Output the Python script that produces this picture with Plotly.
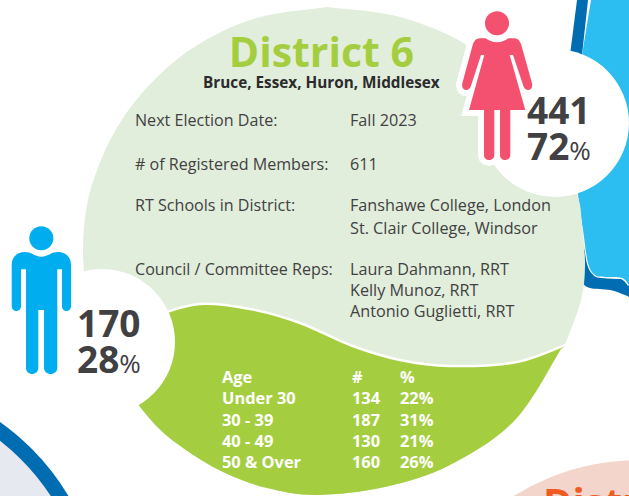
import plotly.graph_objects as go

# ---- content ----
title = "District 6"
subtitle = "Bruce, Essex, Huron, Middlesex"
info_labels = ["Next Election Date:", "# of Registered Members:", "RT Schools in District:", "Council / Committee Reps:"]
info_values = [["Fall 2023"], ["611"], ["Fanshawe College, London", "St. Clair College, Windsor"],
               ["Laura Dahmann, RRT", "Kelly Munoz, RRT", "Antonio Guglietti, RRT"]]
age_groups = ["Under 30", "30 - 39", "40 - 49", "50 & Over"]
age_counts = [134, 187, 130, 160]
age_pcts = [22, 31, 21, 26]
male_count, male_pct = 170, 28
female_count, female_pct = 441, 72
next_title = "District"

W, H = 629, 496
TEXT = "#414042"
LIGHT = "#E1EEDB"
GREEN = "#A4CE3F"
CYAN = "#2CBDF1"
DARKBLUE = "#006DB2"
PINK = "#F4506F"
MANBLUE = "#00AEEF"
FONT = "Open Sans"


def curve(pts):
    """Open Catmull-Rom through pts, as SVG path segments (no leading M)."""
    n = len(pts)
    g = lambda i: pts[max(0, min(n - 1, i))]
    d = ""
    for i in range(n - 1):
        p0, p1, p2, p3 = g(i - 1), g(i), g(i + 1), g(i + 2)
        c1 = (p1[0] + (p2[0] - p0[0]) / 6, p1[1] + (p2[1] - p0[1]) / 6)
        c2 = (p2[0] - (p3[0] - p1[0]) / 6, p2[1] - (p3[1] - p1[1]) / 6)
        d += f" C{c1[0]:.1f},{c1[1]:.1f} {c2[0]:.1f},{c2[1]:.1f} {p2[0]},{p2[1]}"
    return d


def open_path(pts):
    return f"M{pts[0][0]},{pts[0][1]}" + curve(pts)


def circle(cx, cy, r, fill, line=None, lw=0):
    return dict(type="circle", x0=cx - r, x1=cx + r, y0=cy - r, y1=cy + r, fillcolor=fill,
                line=dict(color=line or fill, width=lw), layer="below")


def path(d, fill=None, line=None, lw=0):
    return dict(type="path", path=d, fillcolor=fill or "rgba(0,0,0,0)",
                line=dict(color=line or "rgba(0,0,0,0)", width=lw), layer="below")


def icon(cmds, ox, oy):
    out = []
    for c in cmds:
        out.append(c[0] + " ".join(f"{ox + c[i] / 3:.1f},{oy + c[i + 1] / 3:.1f}" for i in range(1, len(c), 2)))
    return " ".join(out) + " Z"


upper_edge = [(327, 7), (400, 17), (467, 45), (520, 90), (560, 150), (578, 197), (582, 225), (585, 265), (581, 300),
              (565, 345)]
lower_edge = [(561, 349), (515, 420), (450, 465), (385, 487), (317, 495), (267, 488), (223, 472), (183, 448), (150, 419),
              (110, 364), (90, 320)]
left_edge = [(90, 320), (83, 250), (92, 185), (125, 115), (180, 57), (250, 20), (327, 7)]
divider = [(160, 314), (200, 304), (250, 309), (300, 323), (350, 345), (400, 360), (450, 366), (517, 362), (570, 343)]

blob_d = open_path(upper_edge) + " L561,349" + curve(lower_edge) + curve(left_edge) + " Z"
green_d = open_path(divider) + " L561,349" + curve(lower_edge) + " Z"

cyan_d = "M591,0 L582,55 L578,195" + curve([(578, 195), (583, 230), (588, 263), (595, 275), (605, 277),
                                            (622, 278), (629, 285)]) + " L629,0 Z"
darkblue_d = "M577,0 L588,0 L582,55 L570,55 Z"
lower_blue = open_path([(584, 247), (583, 265), (582, 281), (590, 288), (610, 290), (625, 295), (629, 297)]) + \
    " L629,285 L622,279 L605,278 L595,276 L588,265 Z"
lower_white = open_path([(584, 232), (588, 263), (595, 275), (605, 277), (622, 278), (629, 285)])

woman = [("M", 126, 112), ("C", 112, 112, 100, 106, 92, 100), ("L", 75, 100), ("C", 62, 100, 56, 110, 53, 120),
         ("L", 22, 235), ("C", 17, 258, 42, 262, 48, 242), ("L", 78, 150), ("L", 88, 150), ("L", 42, 315), ("L", 87, 315),
         ("L", 87, 450), ("C", 87, 470, 118, 470, 118, 450), ("L", 118, 315), ("L", 135, 315), ("L", 135, 450),
         ("C", 135, 470, 166, 470, 166, 450), ("L", 166, 315), ("L", 211, 315), ("L", 164, 150), ("L", 174, 150),
         ("L", 205, 242), ("C", 211, 262, 236, 258, 231, 235), ("L", 199, 120), ("C", 196, 110, 190, 100, 177, 100),
         ("L", 160, 100), ("C", 152, 106, 140, 112, 126, 112)]
woman_d = icon(woman, 455, 5)

man = [("M", 124, 170), ("C", 110, 170, 100, 163, 90, 158), ("C", 60, 150, 35, 165, 35, 195), ("L", 35, 318),
       ("C", 35, 338, 63, 338, 63, 318), ("L", 63, 208), ("L", 78, 208), ("L", 78, 503), ("C", 78, 528, 115, 528, 115, 503),
       ("L", 115, 330), ("L", 132, 330), ("L", 132, 503), ("C", 132, 528, 172, 528, 172, 503), ("L", 172, 208), ("L", 186, 208),
       ("L", 186, 318), ("C", 186, 338, 213, 338, 213, 318), ("L", 213, 195), ("C", 213, 165, 188, 150, 158, 158),
       ("C", 148, 163, 138, 170, 124, 170)]
man_d = icon(man, 0, 200)

shapes = [
    circle(-140, 620, 235, "#E6E9EF", DARKBLUE, 15),
    circle(640, 700, 240, "#F4D5CB"),
    path(darkblue_d, DARKBLUE),
    path(lower_blue, DARKBLUE),
    path(lower_white, None, "white", 2.5),
    path(cyan_d, CYAN),
    path(blob_d, LIGHT),
    path(green_d, GREEN),
    path(open_path(divider), None, "white", 2.5),
    circle(102, 342, 73, "white"),
    circle(555, 123, 74, "white"),
    path(woman_d, "white", "white", 12),
    circle(497, 23.3, 12, PINK),
    path(woman_d, PINK),
    circle(41.3, 238.3, 12, MANBLUE),
    path(man_d, MANBLUE),
]


def label(x, y, text, size, color=TEXT, bold=False, anchor="left", yanchor="middle"):
    t = f"<b>{text}</b>" if bold else text
    return dict(x=x, y=y, xref="x", yref="y", text=t, showarrow=False, xanchor=anchor, yanchor=yanchor,
                align="center" if anchor == "center" else "left",
                font=dict(family=FONT, size=size, color=color), borderpad=0, borderwidth=0)


# line pitch of an annotation follows its base font size (x 1.3); spans carry the drawn size
ann = [label(321.5, 57,
             f"<span style='font-size:41px'><b>{title}</b></span><br>"
             f"<span style='font-size:15.3px;color:#2B2A2C'><b>{subtitle}</b></span>",
             16.5, GREEN, False, "center")]

info_y = [120, 164, 205, 269]
for lab, y in zip(info_labels, info_y):
    ann.append(label(135, y, lab, 16.1))
ann.append(label(350, 120, info_values[0][0], 16.2))
ann.append(label(350, 164, info_values[1][0], 16.2))
ann.append(label(350, 205, info_values[2][0], 16.2))
ann.append(label(350, 228, info_values[2][1], 16.2))
ann.append(label(350, 289.5, "<br>".join(info_values[3]), 16.2))

table_mid = 419
col_age = "<br>".join(["Age"] + age_groups)
col_n = "<br>".join(["#"] + [str(c) for c in age_counts])
col_p = "<br>".join(["%"] + [f"{p}%" for p in age_pcts])
ann += [label(222, table_mid, col_age, 16.4, "white", True),
        label(352, table_mid, col_n, 16.4, "white", True),
        label(400, table_mid, col_p, 16.4, "white", True)]


def stat(x, y, count, pct):
    t = (f"<span style='font-size:37px'><b>{count}</b></span><br>"
         f"<span style='font-size:37px'><b>{pct}</b></span><span style='font-size:26px'>%</span>")
    return label(x, y, t, 27.5)


ann.append(stat(77, 340, male_count, male_pct))
ann.append(stat(527, 127, female_count, female_pct))
ann.append(label(543, 474, next_title, 40, "#F15A22", True, yanchor="top"))

fig = go.Figure()
fig.update_layout(width=W, height=H, margin=dict(l=0, r=0, t=0, b=0), paper_bgcolor="white", plot_bgcolor="white",
                  showlegend=False, shapes=shapes, annotations=ann,
                  xaxis=dict(range=[0, W], visible=False, fixedrange=True),
                  yaxis=dict(range=[H, 0], visible=False, fixedrange=True))
fig.write_html("out.html", config=dict(displayModeBar=False),
               post_script="document.body.style.margin='0';document.body.style.overflow='hidden';")
